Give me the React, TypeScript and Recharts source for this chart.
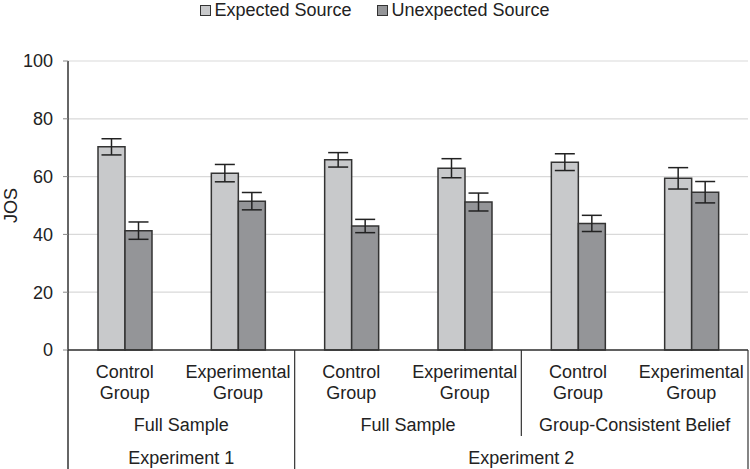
import React from "react";
import {
  BarChart,
  Bar,
  XAxis,
  YAxis,
  CartesianGrid,
  Legend,
  ErrorBar,
} from "recharts";

const groups = ["Control Group", "Experimental Group", "Control Group", "Experimental Group", "Control Group", "Experimental Group"];
const samples = ["Full Sample", "Full Sample", "Group-Consistent Belief"];
const experiments = ["Experiment 1", "Experiment 2"];

const expected = [70.3, 61.2, 65.8, 62.9, 65.0, 59.4];
const expectedErr = [2.8, 3.0, 2.5, 3.3, 2.9, 3.7];
const unexpected = [41.3, 51.5, 42.9, 51.2, 43.8, 54.6];
const unexpectedErr = [3.0, 3.0, 2.3, 3.1, 2.8, 3.7];

const yTicks = [0, 20, 40, 60, 80, 100];

const data = groups.map((g, i) => ({
  key: String(i),
  group: g,
  expected: expected[i],
  expectedErr: expectedErr[i],
  unexpected: unexpected[i],
  unexpectedErr: unexpectedErr[i],
}));

const W = 750;
const H = 469;
const M = { top: 41, right: 2, left: 0, bottom: 0 };
const Y_W = 68;
const BAND = (W - M.left - M.right - Y_W) / groups.length;
const FONT = "'Liberation Sans', Arial, sans-serif";
const FS = 18;
const INK = "#222";
const LINE = "#333";

function GroupTick(props: any) {
  const { x, y, index } = props;
  const [l1, l2] = groups[index].split(" ");
  const left = x - BAND / 2;
  const right = x + BAND / 2;
  const txt = { fontFamily: FONT, fontSize: FS, fill: INK, textAnchor: "middle" as const };
  return (
    <g>
      <text x={x} y={y + 28} {...txt}>{l1}</text>
      <text x={x} y={y + 49} {...txt}>{l2}</text>
      {index % 2 === 0 && (
        <text x={right} y={y + 81} {...txt}>{samples[index / 2]}</text>
      )}
      {index === 0 && (
        <>
          <line x1={left} x2={left} y1={y} y2={H} stroke={LINE} strokeWidth={1.5} />
          <text x={right} y={y + 114} {...txt}>{experiments[0]}</text>
        </>
      )}
      {index === 2 && (
        <>
          <line x1={left} x2={left} y1={y} y2={H} stroke={LINE} strokeWidth={1.2} />
          <text x={right + BAND} y={y + 114} {...txt}>{experiments[1]}</text>
        </>
      )}
      {index === 4 && (
        <line x1={left} x2={left} y1={y} y2={y + 86} stroke={LINE} strokeWidth={1.2} />
      )}
      {index === 5 && (
        <line x1={right} x2={right} y1={y} y2={H} stroke={LINE} strokeWidth={1.2} />
      )}
    </g>
  );
}

function LegendBox() {
  const items = [
    { label: "Expected Source", color: "#c8c9cb" },
    { label: "Unexpected Source", color: "#949598" },
  ];
  return (
    <div style={{ display: "flex", justifyContent: "center", gap: 26, fontFamily: FONT, fontSize: FS, lineHeight: "20px", color: INK }}>
      {items.map((it) => (
        <div key={it.label} style={{ display: "flex", alignItems: "center", gap: 3 }}>
          <span style={{ width: 9, height: 9, background: it.color, border: `1.5px solid ${LINE}`, display: "inline-block" }} />
          <span>{it.label}</span>
        </div>
      ))}
    </div>
  );
}

export default function App() {
  return (
    <div style={{ position: "absolute", left: 0, top: 0, background: "#fff" }}>
      <BarChart width={W} height={H} data={data} margin={M} barGap={0} barSize={27}>
        <CartesianGrid vertical={false} stroke="#d9d9d9" strokeWidth={1.2} />
        <XAxis
          dataKey="key"
          interval={0}
          height={H - 350}
          tickLine={false}
          tickSize={0}
          tickMargin={0}
          axisLine={{ stroke: LINE, strokeWidth: 1.5 }}
          tick={<GroupTick />}
        />
        <YAxis
          width={Y_W}
          domain={[0, 100]}
          ticks={yTicks}
          tickSize={5}
          tickMargin={10}
          axisLine={{ stroke: LINE, strokeWidth: 1.5 }}
          tickLine={{ stroke: "#888" }}
          tick={{ fontFamily: FONT, fontSize: FS, fill: INK }}
          label={{ value: "JOS", angle: -90, position: "insideLeft", offset: 11, style: { fontFamily: FONT, fontSize: FS, fill: INK, textAnchor: "middle" } }}
        />
        <Legend verticalAlign="top" wrapperStyle={{ top: 0, left: 0, width: W }} content={<LegendBox />} />
        <Bar dataKey="expected" name="Expected Source" fill="#c8c9cb" stroke={LINE} strokeWidth={1.5} isAnimationActive={false}>
          <ErrorBar dataKey="expectedErr" width={10} stroke={INK} strokeWidth={1.5} />
        </Bar>
        <Bar dataKey="unexpected" name="Unexpected Source" fill="#949598" stroke={LINE} strokeWidth={1.5} isAnimationActive={false}>
          <ErrorBar dataKey="unexpectedErr" width={10} stroke={INK} strokeWidth={1.5} />
        </Bar>
      </BarChart>
    </div>
  );
}
